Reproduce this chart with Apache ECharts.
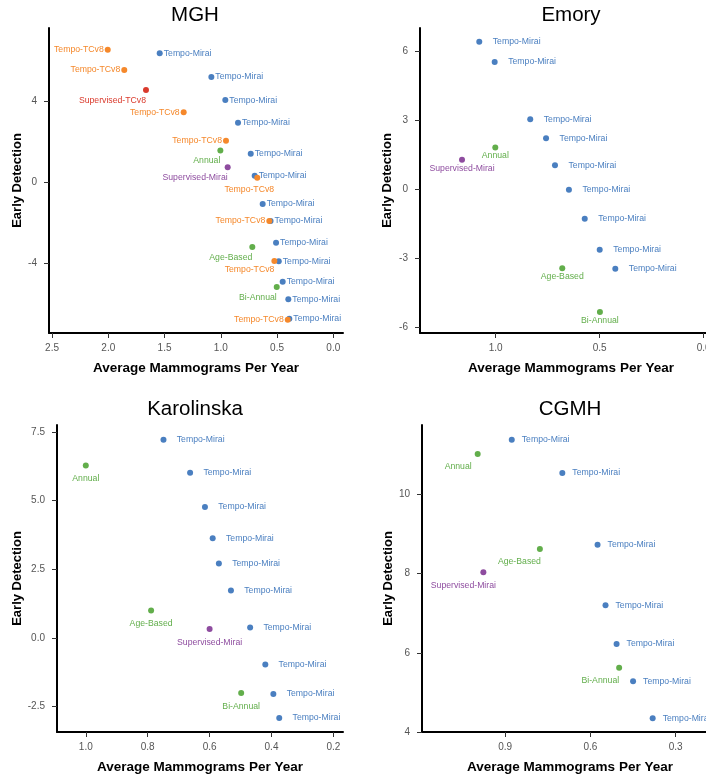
<!DOCTYPE html>
<html><head><meta charset="utf-8">
<script src="https://cdn.jsdelivr.net/npm/echarts@6/dist/echarts.min.js"></script>
<style>html,body{margin:0;padding:0;background:#fff}#c{width:706px;height:777px}</style>
</head><body><div id="c"></div>
<script>
// ---------------- DATA ----------------
const PANEL_TITLES = ['MGH', 'Emory', 'Karolinska', 'CGMH'];
const X_NAME = 'Average Mammograms Per Year';
const Y_NAME = 'Early Detection';

// MGH  [avg mammograms per year, early detection]
const MGH_TEMPO_MIRAI = [[1.543,6.40],[1.084,5.22],[0.960,4.08],[0.847,2.96],[0.734,1.43],[0.699,0.34],[0.628,-1.06],[0.558,-1.91],[0.509,-2.98],[0.485,-3.90],[0.450,-4.91],[0.400,-5.78],[0.391,-6.74]];
const MGH_TEMPO_TCV8 = [[2.005,6.57],[1.858,5.57],[1.330,3.48],[0.954,2.07],[0.676,0.24],[0.569,-1.91],[0.524,-3.89],[0.405,-6.79]];
const MGH_SUPERVISED_TCV8 = [[1.665,4.58]];
const MGH_ANNUAL = [[1.004,1.59]];
const MGH_SUPERVISED_MIRAI = [[0.939,0.75]];
const MGH_AGE_BASED = [[0.720,-3.19]];
const MGH_BI_ANNUAL = [[0.503,-5.17]];
const MGH_X_TICKS = [0, 0.5, 1.0, 1.5, 2.0, 2.5];
const MGH_Y_TICKS = [-4, 0, 4];

// Emory
const EMORY_TEMPO_MIRAI = [[1.079,6.39],[1.005,5.51],[0.834,3.02],[0.758,2.20],[0.715,1.02],[0.648,-0.04],[0.572,-1.30],[0.500,-2.65],[0.425,-3.48]];
const EMORY_ANNUAL = [[1.002,1.80]];
const EMORY_SUPERVISED_MIRAI = [[1.162,1.26]];
const EMORY_AGE_BASED = [[0.680,-3.46]];
const EMORY_BI_ANNUAL = [[0.499,-5.36]];
const EMORY_X_TICKS = [0, 0.5, 1.0];
const EMORY_Y_TICKS = [-6, -3, 0, 3, 6];

// Karolinska
const KAROLINSKA_TEMPO_MIRAI = [[0.749,7.21],[0.663,6.01],[0.615,4.77],[0.590,3.63],[0.570,2.71],[0.531,1.73],[0.469,0.38],[0.420,-0.96],[0.394,-2.04],[0.375,-2.91]];
const KAROLINSKA_ANNUAL = [[1.000,6.28]];
const KAROLINSKA_AGE_BASED = [[0.789,1.00]];
const KAROLINSKA_SUPERVISED_MIRAI = [[0.600,0.33]];
const KAROLINSKA_BI_ANNUAL = [[0.498,-2.00]];
const KAROLINSKA_X_TICKS = [0.2, 0.4, 0.6, 0.8, 1.0];
const KAROLINSKA_Y_TICKS = [-2.5, 0, 2.5, 5.0, 7.5];

// CGMH
const CGMH_TEMPO_MIRAI = [[0.877,11.38],[0.699,10.54],[0.575,8.73],[0.547,7.20],[0.508,6.22],[0.450,5.28],[0.381,4.35]];
const CGMH_ANNUAL = [[0.997,11.02]];
const CGMH_AGE_BASED = [[0.778,8.62]];
const CGMH_SUPERVISED_MIRAI = [[0.977,8.03]];
const CGMH_BI_ANNUAL = [[0.499,5.62]];
const CGMH_X_TICKS = [0.3, 0.6, 0.9];
const CGMH_Y_TICKS = [4, 6, 8, 10];

// ---------------- STYLE ----------------
const COLORS = {
  'Tempo-Mirai': '#4a7fc0',
  'Tempo-TCv8': '#f5882b',
  'Supervised-TCv8': '#da3a2c',
  'Annual': '#62ae4b',
  'Supervised-Mirai': '#8e4c9f',
  'Age-Based': '#62ae4b',
  'Bi-Annual': '#62ae4b'
};
const FONT = 'Liberation Sans, Arial, sans-serif';

// label placement codes: [kind, dx, extraDistance]
const MGH_TCV8_LABELS = [['l'],['l'],['l'],['l'],['bc',-8,1.5],['l'],['bl',0,-2],['l']];

const PANEL_LAYOUT = [
  {left:49, top:28, width:294, height:305, xMin:-0.086, xMax:2.527, yMin:-7.45, yMax:7.65, rDist:1, bDist:3, yGap:24, xDec:1, yDec:0},
  {left:420, top:28, width:302, height:305, xMin:-0.088, xMax:1.364, yMin:-6.27, yMax:6.99, rDist:10.5, bDist:1, yGap:26, xDec:1, yDec:0},
  {left:57, top:425, width:286, height:307, xMin:0.169, xMax:1.093, yMin:-3.42, yMax:7.75, rDist:10.3, bDist:6, yGap:32, xDec:1, yDec:1},
  {left:422, top:425, width:296, height:307, xMin:0.151, xMax:1.193, yMin:4, yMax:11.75, rDist:7, bDist:5.5, yGap:27, xDec:1, yDec:0}
];

const PANEL_SERIES = [
  [['Tempo-Mirai', MGH_TEMPO_MIRAI, null], ['Tempo-TCv8', MGH_TEMPO_TCV8, MGH_TCV8_LABELS],
   ['Supervised-TCv8', MGH_SUPERVISED_TCV8, [['bl',0,0]]], ['Annual', MGH_ANNUAL, [['bl',0,0]]],
   ['Supervised-Mirai', MGH_SUPERVISED_MIRAI, [['bl',0,0]]], ['Age-Based', MGH_AGE_BASED, [['bl',0,0]]],
   ['Bi-Annual', MGH_BI_ANNUAL, [['bl',0,0]]]],
  [['Tempo-Mirai', EMORY_TEMPO_MIRAI, null], ['Annual', EMORY_ANNUAL, [['bc',0,0]]],
   ['Supervised-Mirai', EMORY_SUPERVISED_MIRAI, [['bc',0,0]]], ['Age-Based', EMORY_AGE_BASED, [['bc',0,0]]],
   ['Bi-Annual', EMORY_BI_ANNUAL, [['bc',0,0]]]],
  [['Tempo-Mirai', KAROLINSKA_TEMPO_MIRAI, null], ['Annual', KAROLINSKA_ANNUAL, [['bc',0,0]]],
   ['Age-Based', KAROLINSKA_AGE_BASED, [['bc',0,0]]], ['Supervised-Mirai', KAROLINSKA_SUPERVISED_MIRAI, [['bc',0,0]]],
   ['Bi-Annual', KAROLINSKA_BI_ANNUAL, [['bc',0,0]]]],
  [['Tempo-Mirai', CGMH_TEMPO_MIRAI, null], ['Annual', CGMH_ANNUAL, [['bl',-6,0]]],
   ['Age-Based', CGMH_AGE_BASED, [['bl',1,0]]], ['Supervised-Mirai', CGMH_SUPERVISED_MIRAI, [['bc',-20,0]]],
   ['Bi-Annual', CGMH_BI_ANNUAL, [['bl',0,0]]]]
];
const X_TICKS = [MGH_X_TICKS, EMORY_X_TICKS, KAROLINSKA_X_TICKS, CGMH_X_TICKS];
const Y_TICKS = [MGH_Y_TICKS, EMORY_Y_TICKS, KAROLINSKA_Y_TICKS, CGMH_Y_TICKS];
const TITLE_POS = [[195,15],[571,15],[195,409],[570,409]];

function makeLabel(code, lay) {
  if (!code || code[0] === 'r') return {position:'right', distance: lay.rDist};
  if (code[0] === 'l') return {position:'left', distance: 1};
  const dist = lay.bDist + (code[2] || 0);
  if (code[0] === 'bl') return {position:'bottom', align:'right', distance: dist, offset:[code[1] || 0, 0]};
  return {position:'bottom', align:'center', distance: dist, offset:[code[1] || 0, 0]};
}

const grids = [], xAxes = [], yAxes = [], series = [];
PANEL_LAYOUT.forEach((lay, i) => {
  grids.push({left:lay.left, top:lay.top, width:lay.width, height:lay.height, containLabel:false, outerBoundsMode:'none'});
  xAxes.push({
    gridIndex:i, type:'value', inverse:true, min:lay.xMin, max:lay.xMax,
    splitLine:{show:false},
    axisLine:{show:true, onZero:false, lineStyle:{color:'#000', width:2}},
    axisTick:{show:true, customValues:X_TICKS[i], length:5, lineStyle:{color:'#333', width:1}},
    axisLabel:{customValues:X_TICKS[i], formatter:v => Number(v).toFixed(lay.xDec), color:'#555', fontSize:10, fontFamily:FONT, margin:10},
    name:X_NAME, nameLocation:'middle', nameGap:28,
    nameTextStyle:{fontWeight:'bold', fontSize:13.5, color:'#000', fontFamily:FONT}
  });
  yAxes.push({
    gridIndex:i, type:'value', min:lay.yMin, max:lay.yMax,
    splitLine:{show:false},
    axisLine:{show:true, onZero:false, lineStyle:{color:'#000', width:2}},
    axisTick:{show:true, customValues:Y_TICKS[i], length:5, lineStyle:{color:'#333', width:1}},
    axisLabel:{customValues:Y_TICKS[i], formatter:v => Number(v).toFixed(lay.yDec), color:'#555', fontSize:10, fontFamily:FONT, margin:12},
    name:Y_NAME, nameLocation:'middle', nameGap:lay.yGap,
    nameTextStyle:{fontWeight:'bold', fontSize:13, color:'#000', fontFamily:FONT}
  });
  PANEL_SERIES[i].forEach(([name, pts, labels]) => {
    const color = COLORS[name];
    series.push({
      type:'scatter', name, xAxisIndex:i, yAxisIndex:i,
      symbol:'circle', symbolSize:6,
      itemStyle:{color, opacity:1},
      label:{show:true, formatter:name, color, fontSize:8.7, fontFamily:FONT},
      emphasis:{disabled:true},
      data: pts.map((p, k) => ({value:p, label: makeLabel(labels ? labels[k] : null, lay)}))
    });
  });
});

const chart = echarts.init(document.getElementById('c'), null, {renderer:'canvas'});
chart.setOption({
  animation:false,
  backgroundColor:'#fff',
  grid:grids, xAxis:xAxes, yAxis:yAxes, series,
  graphic: TITLE_POS.map((p, i) => ({type:'text', x:p[0], y:p[1],
    style:{text:PANEL_TITLES[i], fill:'#000', font:'20.5px ' + FONT, align:'center', verticalAlign:'middle'}}))
});
</script></body></html>
